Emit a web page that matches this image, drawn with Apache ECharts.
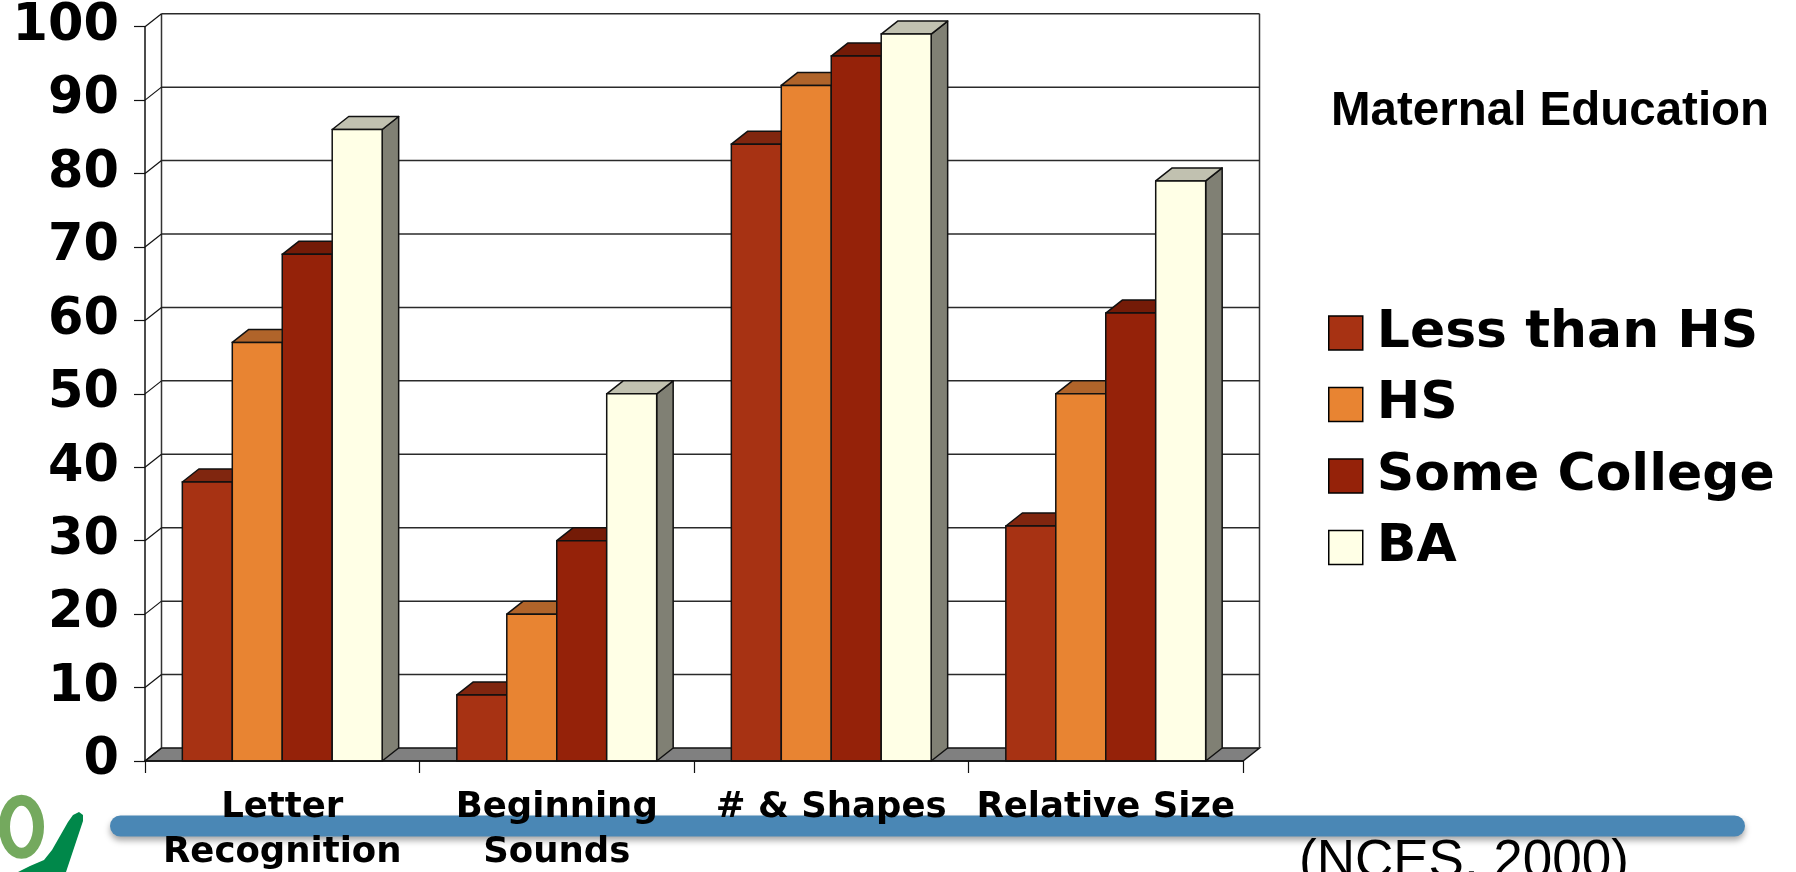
<!DOCTYPE html>
<html>
<head>
<meta charset="utf-8">
<script src="https://cdn.jsdelivr.net/npm/echarts@6/dist/echarts.min.js"></script>
<style>
html,body{margin:0;padding:0;background:#fff;}
#chart{width:1796px;height:872px;}
</style>
</head>
<body>
<div id="chart"></div>
<script>
// ---- data ----
const categories = ['Letter\nRecognition', 'Beginning\nSounds', '# & Shapes', 'Relative Size'];
const seriesNames = ['Less than HS', 'HS', 'Some College', 'BA'];
const lessThanHS = [38, 9, 84, 32];
const hsValues = [57, 20, 92, 50];
const someCollege = [69, 30, 96, 61];
const baValues = [86, 50, 99, 79];
const yTicks = [0, 10, 20, 30, 40, 50, 60, 70, 80, 90, 100];
const legendTitle = 'Maternal Education';
const sourceNote = '(NCES, 2000)';

// ---- styles ----
const frontColors = ['#A73213', '#E88432', '#952209', '#FFFFE6'];
const topColors   = ['#80260F', '#B0642A', '#741B07', '#C1C1B0'];
const sideColors  = ['#7A2410', '#A8622C', '#6A1906', '#808074'];
const DX = 16.5, DY = -13;       // pseudo-3D depth offset
const BAR_RATIO = 0.182;         // bar width / category width
const EDGE = '#111';

const allValues = [lessThanHS, hsValues, someCollege, baValues];

function barRenderer(k) {
  return function (params, api) {
    const ci = api.value(0);
    const v = api.value(1);
    const base = api.coord([ci, 0]);
    const top = api.coord([ci, v]);
    const catW = api.size([1, 0])[0];
    const bw = catW * BAR_RATIO;
    const x = base[0] - 2 * bw + k * bw;
    const y0 = base[1], y1 = top[1];
    return {
      type: 'group',
      children: [
        { type: 'polygon', shape: { points: [[x + bw, y1], [x + bw + DX, y1 + DY], [x + bw + DX, y0 + DY], [x + bw, y0]] },
          style: { fill: sideColors[k], stroke: EDGE, lineWidth: 1.5, lineJoin: 'round' } },
        { type: 'polygon', shape: { points: [[x, y1], [x + DX, y1 + DY], [x + bw + DX, y1 + DY], [x + bw, y1]] },
          style: { fill: topColors[k], stroke: EDGE, lineWidth: 1.5, lineJoin: 'round' } },
        { type: 'rect', shape: { x: x, y: y1, width: bw, height: y0 - y1 },
          style: { fill: frontColors[k], stroke: EDGE, lineWidth: 1.5 } }
      ]
    };
  };
}

function wallRenderer(params, api) {
  const t = api.value(1);
  const catW = api.size([1, 0])[0];
  const x0 = api.coord([0, t])[0] - catW / 2;
  const x1 = api.coord([categories.length - 1, t])[0] + catW / 2;
  const y = api.coord([0, t])[1];
  const yMin = api.coord([0, yTicks[0]])[1];
  const yMax = api.coord([0, yTicks[yTicks.length - 1]])[1];
  const children = [];
  if (t === yTicks[0]) {
    children.push({ type: 'polygon', shape: { points: [[x0, y], [x0 + DX, y + DY], [x1 + DX, y + DY], [x1, y]] },
      style: { fill: '#808080', stroke: '#111', lineWidth: 1.5 } });
    children.push({ type: 'line', shape: { x1: x0 + DX, y1: yMin + DY, x2: x0 + DX, y2: yMax + DY },
      style: { stroke: '#333', lineWidth: 1.5 } });
    children.push({ type: 'line', shape: { x1: x1 + DX, y1: yMin + DY, x2: x1 + DX, y2: yMax + DY },
      style: { stroke: '#333', lineWidth: 1.5 } });
  } else {
    children.push({ type: 'line', shape: { x1: x0 + DX, y1: y + DY, x2: x1 + DX, y2: y + DY },
      style: { stroke: '#2a2a2a', lineWidth: 1.5 } });
  }
  children.push({ type: 'line', shape: { x1: x0, y1: y, x2: x0 + DX, y2: y + DY },
    style: { stroke: '#111', lineWidth: 1.2 } });
  return { type: 'group', children: children };
}

const chart = echarts.init(document.getElementById('chart'), null, { renderer: 'canvas' });

const series = [{
  name: 'wall',
  type: 'custom',
  z: 1,
  silent: true,
  renderItem: wallRenderer,
  data: yTicks.map(t => [0, t]),
  encode: { x: 0, y: 1 }
}];
seriesNames.forEach((name, k) => {
  series.push({
    name: name,
    type: 'custom',
    z: 2 + k,
    renderItem: barRenderer(k),
    itemStyle: { color: frontColors[k], borderColor: '#000', borderWidth: 1.5 },
    data: allValues[k].map((v, i) => [i, v]),
    encode: { x: 0, y: 1 }
  });
});

chart.setOption({
  animation: false,
  backgroundColor: '#fff',
  title: {
    text: legendTitle,
    left: 1331, top: 88, padding: 0,
    textStyle: { fontFamily: 'Liberation Sans', fontWeight: 'bold', fontSize: 47.5, color: '#000' }
  },
  legend: {
    data: seriesNames,
    orient: 'vertical',
    left: 1328, top: 307,
    padding: 0,
    icon: 'rect',
    itemWidth: 34, itemHeight: 34, itemGap: 19.5,
    itemStyle: { borderColor: '#000', borderWidth: 1.5 },
    textStyle: { fontFamily: 'DejaVu Sans', fontWeight: 'bold', fontSize: 52, color: '#000', padding: [0, 0, 0, 9] },
    selectedMode: false
  },
  grid: { left: 145, right: 553, top: 26.7, bottom: 111, containLabel: false, outerBoundsMode: 'none' },
  xAxis: {
    type: 'category',
    data: categories,
    z: 6,
    axisLine: { show: true, lineStyle: { color: '#111', width: 1.5 } },
    axisTick: { show: true, length: 12, lineStyle: { color: '#111', width: 1.2 } },
    axisLabel: { interval: 0, margin: 24, fontFamily: 'DejaVu Sans', fontWeight: 'bold', fontSize: 35.5, lineHeight: 45, color: '#000' },
    splitLine: { show: false }
  },
  yAxis: {
    type: 'value',
    min: 0, max: 100, interval: 10,
    axisLine: { show: true, lineStyle: { color: '#111', width: 1.5 } },
    axisTick: { show: true, length: 11, lineStyle: { color: '#111', width: 1.2 } },
    axisLabel: { margin: 26, fontFamily: 'DejaVu Sans', fontWeight: 'bold', fontSize: 51, color: '#000' },
    splitLine: { show: false }
  },
  graphic: [
    { type: 'line', z: 0, shape: { x1: 120.5, y1: 826, x2: 1734.5, y2: 826 },
      style: { stroke: '#4A87B5', lineWidth: 21, lineCap: 'round', shadowBlur: 6, shadowOffsetY: 4, shadowColor: 'rgba(0,0,0,0.35)' } },
    { type: 'polygon', z: 0,
      shape: { points: [[68, 822], [73, 815], [79, 812], [83, 815], [83, 821], [66, 872], [18, 872], [30, 866], [44, 860], [52, 850], [60, 836]] },
      style: { fill: '#00884A' } },
    { type: 'ellipse', z: 0, shape: { cx: 21.5, cy: 826.7, rx: 17, ry: 26.5 },
      style: { fill: 'none', stroke: '#74A95E', lineWidth: 11 } },
    { type: 'text', z: 0, left: 1299, top: 836,
      style: { text: sourceNote, font: '53px "Liberation Sans"', fill: '#000' } }
  ],
  series: series
});
</script>
</body>
</html>
